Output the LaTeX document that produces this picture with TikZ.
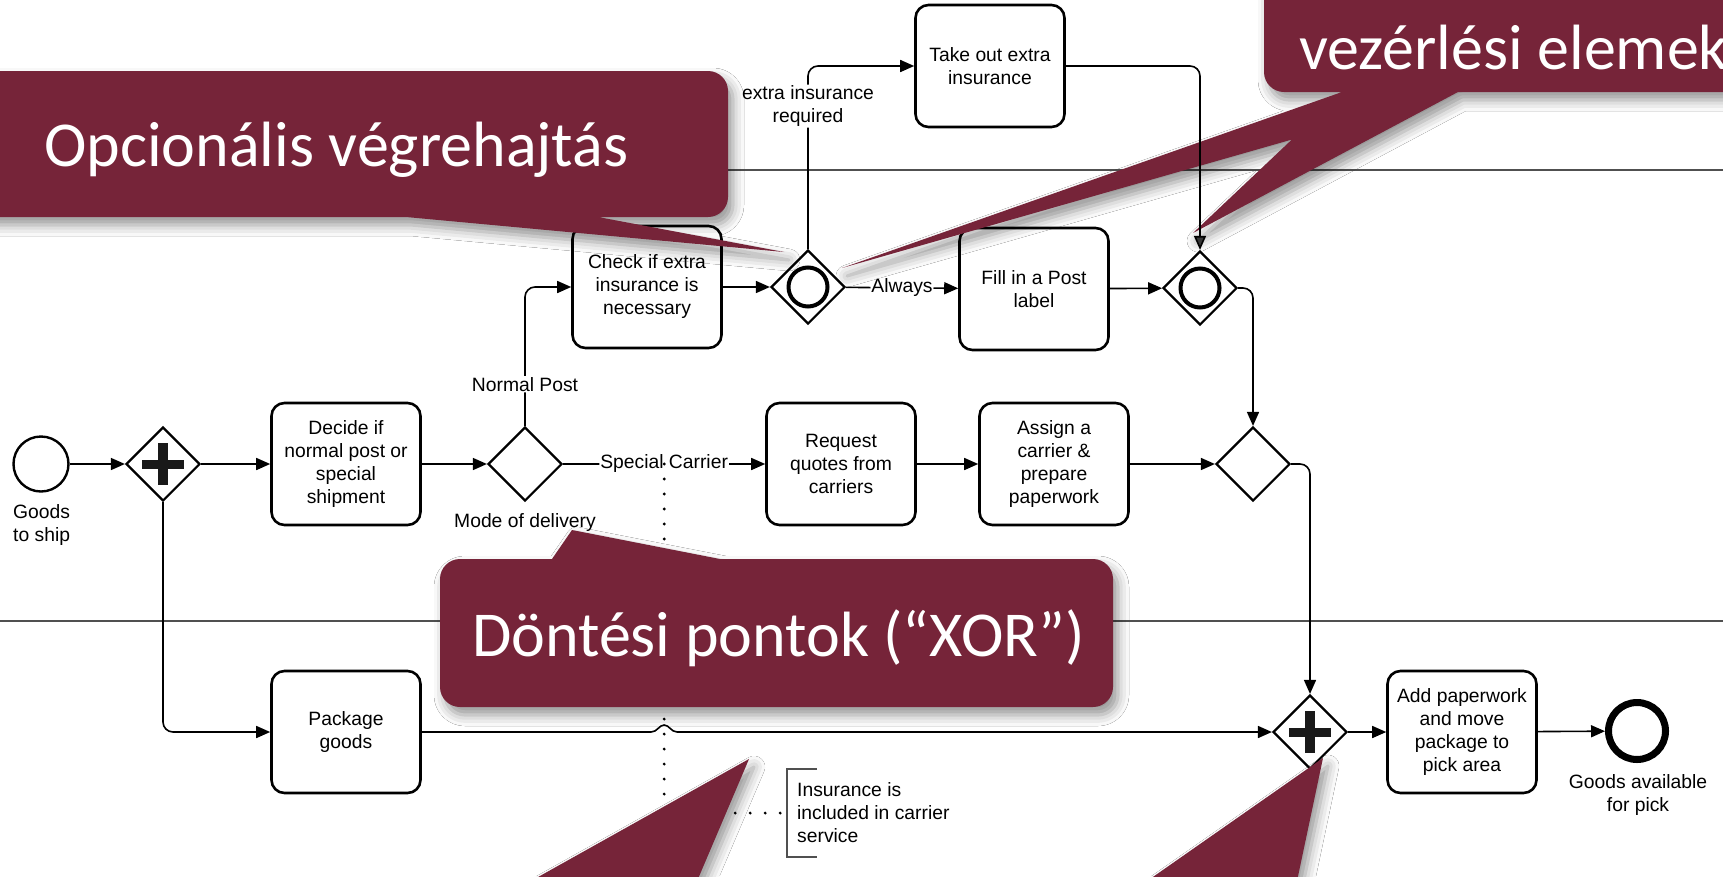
\documentclass[tikz,border=0pt]{standalone}
\usepackage{fontspec}
\setmainfont{Liberation Sans}
\newfontfamily\calloutfont{Carlito}
\usetikzlibrary{arrows.meta,shapes.geometric,calc,shadows.blur}
\definecolor{callout}{RGB}{118,36,57}
\definecolor{lanegray}{RGB}{80,80,80}

\begin{document}
\begin{tikzpicture}[x=1pt,y=-1pt,
  every node/.style={font=\fontsize{19.3}{23}\selectfont},
  task/.style={draw, line width=2.6pt, rounded corners=13pt,
    minimum width=149pt, minimum height=122pt, align=center, inner sep=2pt},
  gateway/.style={draw, diamond, line width=2.2pt, minimum size=74pt, inner sep=0pt},
  andgw/.style={gateway, path picture={
    \fill[black!90] ($(path picture bounding box.center)+(-21,-4.5)$) rectangle ($(path picture bounding box.center)+(21,4.5)$);
    \fill[black!90] ($(path picture bounding box.center)+(-5,-21)$) rectangle ($(path picture bounding box.center)+(5,21)$);}},
  orgw/.style={gateway, path picture={
    \draw[line width=4pt] (path picture bounding box.center) circle[radius=19.5pt];}},
  startev/.style={draw, circle, line width=2.4pt, minimum size=55pt, inner sep=0pt},
  endev/.style={draw, circle, line width=7pt, minimum size=57pt, inner sep=0pt},
  flow/.style={line width=1.6pt, rounded corners=10pt, -{Triangle[length=14pt,width=12pt]}},
  lbl/.style={fill=white, inner sep=1pt, align=center},
  assoc/.style={line width=3.2pt, line cap=round, dash pattern=on 0pt off 15pt},
  lanesep/.style={draw=lanegray, line width=1.3pt},
  cshadow/.style={blur shadow={shadow xshift=5pt, shadow yshift=-8pt, shadow blur radius=11pt, shadow opacity=42}},
  balloon/.style={fill=callout, cshadow},
  callouttext/.style={text=white, font=\calloutfont\fontsize{64}{72}\selectfont, inner sep=0pt}
]
\useasboundingbox (0,0) rectangle (1723,876);
\clip (0,0) rectangle (1723,876);
\fill[white] (0,0) rectangle (1723,876);

% lane separators
\draw[lanesep] (0,170) -- (1723,170);
\draw[lanesep] (0,621) -- (1723,621);

% events
\node[startev] (start) at (41,464) {};
\node[anchor=north west, align=left, inner sep=0pt] (startlbl) at (13,504) {Goods\\to ship};
\node[endev] (end) at (1637,731) {};
\node[anchor=north, align=center, inner sep=0pt] (endlbl) at (1638,774) {Goods available\\for pick};

% gateways
\node[andgw] (andf) at (163,464) {};
\node[gateway] (mode) at (525,464) {};
\node (modelbl) at (525,522) {Mode of delivery};
\node[orgw] (or1) at (808,287) {};
\node[orgw] (or2) at (1200,288) {};
\node[gateway] (xorm) at (1253,464) {};
\node[andgw] (andj) at (1310,732) {};

% tasks
\node[task] (decide) at (346,464) {Decide if\\normal post or\\special\\shipment};
\node[task] (package) at (346,732) {Package\\goods};
\node[task] (check) at (647,287) {Check if extra\\insurance is\\necessary};
\node[task] (takeout) at (990,66) {Take out extra\\insurance};
\node[task] (fill) at (1034,289) {Fill in a Post\\label};
\node[task] (request) at (841,464) {Request\\quotes from\\carriers};
\node[task] (assign) at (1054,464) {Assign a\\carrier \&\\prepare\\paperwork};
\node[task] (add) at (1462,732) {Add paperwork\\and move\\package to\\pick area};

% annotation
\node[anchor=west, align=left, inner sep=0pt] (annot) at (797,813) {Insurance is\\included in carrier\\service};
\draw[lanegray, line width=1.4pt] ($(annot.west)+(20,-44)$) -- ($(annot.west)+(-10,-44)$) -- ($(annot.west)+(-10,44)$) -- ($(annot.west)+(20,44)$);

% sequence flows
\draw[flow] (start) -- (andf);
\draw[flow] (andf) -- (decide);
\draw[flow] (andf.south) |- (package.west);
\draw[flow] (decide) -- (mode);
\draw[flow] (mode.north) |- node[lbl, pos=0.15] {Normal Post} (check.west);
\draw[flow] (check) -- (or1);
\draw[flow] (or1.north) |- node[lbl, pos=0.39] {extra insurance\\required} (takeout.west);
\draw[flow] (or1) -- node[lbl, pos=0.5] {Always} (fill);
\draw[flow] (fill) -- (or2);
\draw[flow] (or2.east) -| (xorm.north);
\draw[flow] (mode) -- node[lbl, pos=0.5] {Special Carrier} coordinate[pos=0.5] (assocstart) (request);
\draw[flow] (request) -- (assign);
\draw[flow] (assign) -- (xorm);
\draw[flow] (xorm.east) -| (andj.north);
\coordinate (hop) at (assocstart |- package.east);
\draw[line width=1.6pt, -{Triangle[length=14pt,width=12pt]}] (package.east) -- ($(hop)+(-13,0)$)
  .. controls ($(hop)+(-7,0)$) and ($(hop)+(-5,-7)$) .. ($(hop)+(0,-7)$)
  .. controls ($(hop)+(5,-7)$) and ($(hop)+(7,0)$) .. ($(hop)+(13,0)$) -- (andj.west);
\draw[flow] (andj) -- (add);
\draw[flow] (add) -- (end);

% association to the annotation
\draw[assoc] (assocstart) |- ($(annot.west)+(-10,0)$);

% speech balloons
\fill[balloon] (-60,71) [rounded corners=20pt] -- (728,71) -- (728,217) [sharp corners] -- (598,217) -- (784,252) -- (406,217) -- (-60,217) -- cycle;
\node[callouttext, anchor=base west] (calloutA) at (44,166) {Opcionális végrehajtás};

\fill[balloon] (440,640) [rounded corners=20pt] -- (440,559) [sharp corners] -- (552,559) -- (572,530) -- (720,559) [rounded corners=20pt] -- (1113,559) -- (1113,707) -- (440,707) -- cycle;
\node[callouttext, anchor=base west] (calloutC) at (472,656) {Döntési pontok (“XOR”)};

\fill[balloon] (497,900) -- (749,759) -- (689,900) -- cycle;
\fill[balloon] (1120,900) -- (1323,758) -- (1293,900) -- cycle;

\fill[balloon] (1800,-60) -- (1264,-60) [rounded corners=20pt] -- (1264,92) [sharp corners] -- (1342,92) -- (842,268)
  -- (intersection cs: first line={(1458,92)--(842,268)}, second line={(1342,92)--(1193,233)})
  -- (1193,233) -- (1458,92) -- (1800,92) -- cycle;
\node[callouttext, anchor=base west] (calloutB) at (1299,69) {vezérlési elemek};

% flow that runs over the balloon tails
\draw[flow] (takeout.east) -| (or2.north);
\end{tikzpicture}
\end{document}
